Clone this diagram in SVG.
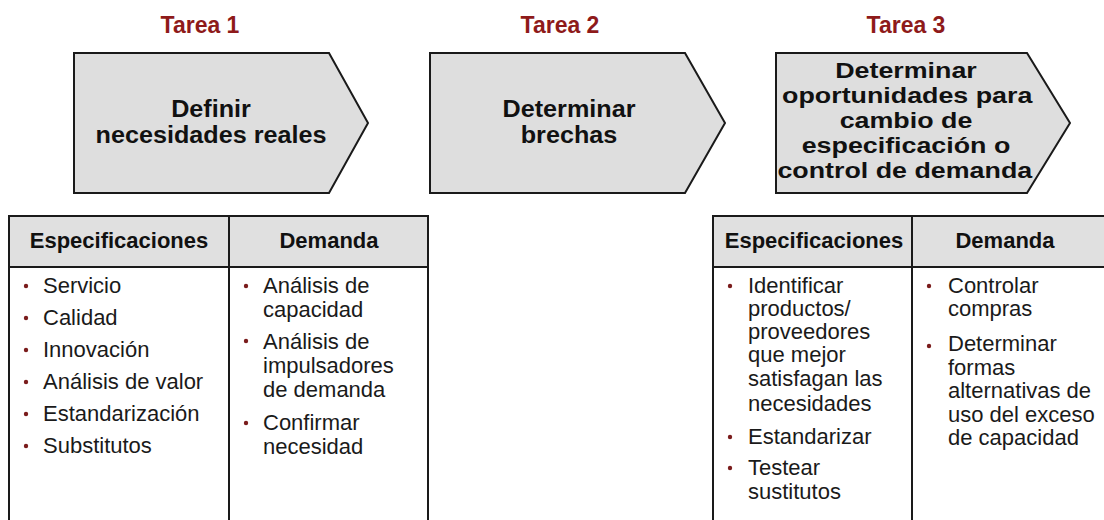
<svg xmlns="http://www.w3.org/2000/svg" width="1104" height="520" viewBox="0 0 1104 520">
<style>
.tarea{font-family:"Liberation Sans",Arial,sans-serif;font-weight:bold;font-size:23px;fill:#8e1a1a;text-anchor:middle}
.arrow{fill:#dedede;stroke:#1a1a1a;stroke-width:2}
.atext{font-family:"Liberation Sans",Arial,sans-serif;font-weight:bold;font-size:23px;fill:#111;text-anchor:middle}
.atext3{font-family:"Liberation Sans",Arial,sans-serif;font-weight:bold;font-size:22px;fill:#111;text-anchor:middle}
.hdr{fill:#e0e0e0;stroke:#1a1a1a;stroke-width:2}
.cell{fill:#fff;stroke:#1a1a1a;stroke-width:2}
.htext{font-family:"Liberation Sans",Arial,sans-serif;font-weight:bold;font-size:22px;fill:#111;text-anchor:middle}
.item{font-family:"Liberation Sans",Arial,sans-serif;font-size:22px;fill:#1a1a1a}
.bul{fill:#7a1c1c}
</style>
<rect width="1104" height="520" fill="#fff"/>

<g id="tarea1">
<text class="tarea" x="200" y="33">Tarea 1</text>
<path class="arrow" d="M74,53 H329 L368,123 L329,193 H74 Z"/>
<g transform="translate(211,0) scale(1.095,1)">
<text class="atext" x="0" y="117">Definir</text>
<text class="atext" x="0" y="143">necesidades reales</text>
</g>
</g>

<g id="tarea2">
<text class="tarea" x="560" y="33">Tarea 2</text>
<path class="arrow" d="M430,53 H685 L725,123 L685,193 H430 Z"/>
<g transform="translate(569,0) scale(1.095,1)">
<text class="atext" x="0" y="117">Determinar</text>
<text class="atext" x="0" y="143">brechas</text>
</g>
</g>

<g id="tarea3">
<text class="tarea" x="906" y="33">Tarea 3</text>
<path class="arrow" d="M776,53 H1027 L1070,123 L1027,193 H776 Z"/>
<g transform="translate(906,0) scale(1.22,1)">
<text class="atext3" x="0" y="78">Determinar</text>
<text class="atext3" x="1" y="103">oportunidades para</text>
<text class="atext3" x="0" y="128">cambio de</text>
<text class="atext3" x="0" y="153">especificación o</text>
<text class="atext3" x="-1" y="178">control de demanda</text>
</g>
</g>

<g id="tabla1">
<rect class="cell" x="9" y="216" width="220" height="320"/>
<rect class="cell" x="229" y="216" width="199" height="320"/>
<rect class="hdr" x="9" y="216" width="220" height="51"/>
<rect class="hdr" x="229" y="216" width="199" height="51"/>
<text class="htext" x="119" y="248">Especificaciones</text>
<text class="htext" x="329" y="248">Demanda</text>
<g class="bul">
<circle cx="26" cy="286" r="2.2"/><circle cx="26" cy="318" r="2.2"/><circle cx="26" cy="350" r="2.2"/>
<circle cx="26" cy="382" r="2.2"/><circle cx="26" cy="414" r="2.2"/><circle cx="26" cy="446" r="2.2"/>
<circle cx="246" cy="286" r="2.2"/><circle cx="246" cy="341" r="2.2"/><circle cx="246" cy="423" r="2.2"/>
</g>
<text class="item" x="43" y="293">Servicio</text>
<text class="item" x="43" y="325">Calidad</text>
<text class="item" x="43" y="357">Innovación</text>
<text class="item" x="43" y="389">Análisis de valor</text>
<text class="item" x="43" y="421">Estandarización</text>
<text class="item" x="43" y="453">Substitutos</text>
<text class="item" x="263" y="293">Análisis de</text>
<text class="item" x="263" y="317">capacidad</text>
<text class="item" x="263" y="349">Análisis de</text>
<text class="item" x="263" y="373">impulsadores</text>
<text class="item" x="263" y="397">de demanda</text>
<text class="item" x="263" y="430">Confirmar</text>
<text class="item" x="263" y="454">necesidad</text>
</g>

<g id="tabla3">
<rect class="cell" x="713" y="216" width="199" height="320"/>
<rect class="cell" x="912" y="216" width="210" height="320"/>
<rect class="hdr" x="713" y="216" width="199" height="51"/>
<rect class="hdr" x="912" y="216" width="210" height="51"/>
<text class="htext" x="814" y="248">Especificaciones</text>
<text class="htext" x="1005" y="248">Demanda</text>
<g class="bul">
<circle cx="730" cy="286" r="2.2"/><circle cx="730" cy="437" r="2.2"/><circle cx="730" cy="468" r="2.2"/>
<circle cx="929" cy="286" r="2.2"/><circle cx="929" cy="346" r="2.2"/>
</g>
<text class="item" x="748" y="293">Identificar</text>
<text class="item" x="748" y="316">productos/</text>
<text class="item" x="748" y="339">proveedores</text>
<text class="item" x="748" y="362">que mejor</text>
<text class="item" x="748" y="386">satisfagan las</text>
<text class="item" x="748" y="411">necesidades</text>
<text class="item" x="748" y="444">Estandarizar</text>
<text class="item" x="748" y="475">Testear</text>
<text class="item" x="748" y="499">sustitutos</text>
<text class="item" x="948" y="293">Controlar</text>
<text class="item" x="948" y="316">compras</text>
<text class="item" x="948" y="351">Determinar</text>
<text class="item" x="948" y="375">formas</text>
<text class="item" x="948" y="398">alternativas de</text>
<text class="item" x="948" y="422">uso del exceso</text>
<text class="item" x="948" y="445">de capacidad</text>
</g>
</svg>
